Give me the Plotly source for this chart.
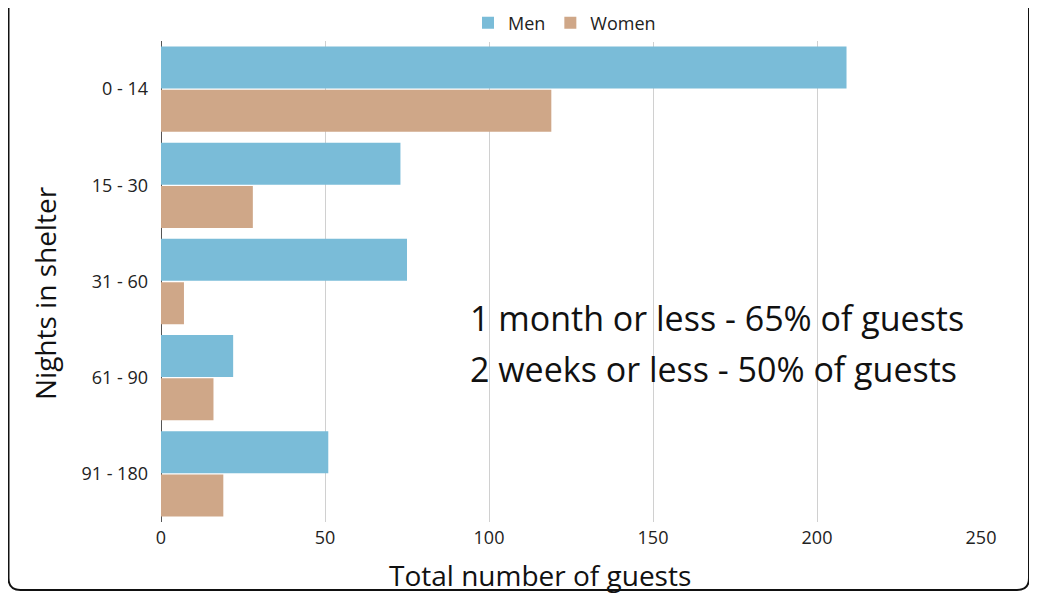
import plotly.graph_objects as go

categories = ["0 - 14", "15 - 30", "31 - 60", "61 - 90", "91 - 180"]
men = [209, 73, 75, 22, 51]
women = [119, 28, 7, 16, 19]
x_ticks = [0, 50, 100, 150, 200, 250]
note_lines = ["1 month or less - 65% of guests", "2 weeks or less - 50% of guests"]

FONT = "Open Sans"
OFF = 8  # page body margin
W, H = 1037 - OFF, 593 - OFF
# plot area in screen pixels
SL, SR, ST, SB = 161, 981, 41, 522
ml, mr, mt, mb = SL - OFF, W - (SR - OFF), ST - OFF, H - (SB - OFF)

fig = go.Figure()
fig.add_trace(go.Bar(y=categories, x=men, name="Men", orientation="h",
                     marker=dict(color="#7abcd8", line=dict(width=0))))
fig.add_trace(go.Bar(y=categories, x=women, name="Women", orientation="h",
                     marker=dict(color="#cfa788", line=dict(width=0))))

pw, ph = W - ml - mr, H - mt - mb
def px(x): return (x - SL) / pw
def py(y): return (SB - y) / ph

# rounded border (top cut off)
x0, x1, yb, yt, r = 8.5, 1029, 590, -20, 12
path = (f"M {px(x0)} {py(yt)} L {px(x0)} {py(yb - r)} "
        f"Q {px(x0)} {py(yb)} {px(x0 + r)} {py(yb)} "
        f"L {px(x1 - r)} {py(yb)} Q {px(x1)} {py(yb)} {px(x1)} {py(yb - r)} "
        f"L {px(x1)} {py(yt)}")
fig.add_shape(type="path", path=path, xref="paper", yref="paper",
              line=dict(color="#111111", width=2))

for line, yc in zip(note_lines, [318, 369]):
    fig.add_annotation(x=px(468), y=py(yc), xref="paper", yref="paper",
                       text=line, showarrow=False, xanchor="left", yanchor="middle",
                       font=dict(family=FONT, size=34, color="#111111"))

fig.add_annotation(x=px(540), y=py(575), xref="paper", yref="paper",
                   text="Total number of guests", showarrow=False,
                   xanchor="center", yanchor="middle",
                   font=dict(family=FONT, size=28, color="#111111"))
fig.add_annotation(x=px(45), y=py(293), xref="paper", yref="paper",
                   text="Nights in shelter", showarrow=False, textangle=-90,
                   xanchor="center", yanchor="middle",
                   font=dict(family=FONT, size=28, color="#111111"))

fig.update_layout(
    width=W, height=H,
    margin=dict(l=ml, r=mr, t=mt, b=mb, autoexpand=False),
    paper_bgcolor="white", plot_bgcolor="white",
    barmode="group", bargap=0.1, bargroupgap=0.03,
    font=dict(family=FONT, size=18, color="#222222"),
    legend=dict(orientation="h", x=px(468), xanchor="left", y=py(23), yanchor="middle",
                font=dict(size=18), itemwidth=30),
    xaxis=dict(range=[0, 250], tickvals=x_ticks, showgrid=True, gridcolor="#d0d0d0",
               gridwidth=1, zeroline=True, zerolinecolor="#555555", zerolinewidth=1,
               tickfont=dict(size=18), ticks="", showline=False, automargin=False,
               ticklabelstandoff=3),
    yaxis=dict(autorange="reversed", categoryorder="array", categoryarray=categories,
               tickfont=dict(size=18), ticks="", showline=False, automargin=False,
               ticklabelstandoff=12),
)
fig.write_html("out.html")
